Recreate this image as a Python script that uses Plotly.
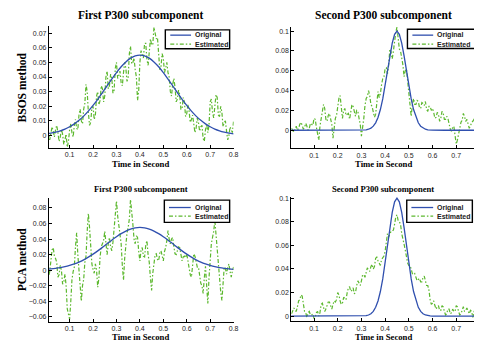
import plotly.graph_objects as go

# The page has an 8px body margin, so the figure is placed at (8, 8) in the window.
OX, OY = 8, 8
W, H = 474, 335

# ---------------- data ----------------
t_grid = [0.01, 0.02, 0.03, 0.04, 0.05, 0.06, 0.07, 0.08, 0.09, 0.10,
          0.11, 0.12, 0.13, 0.14, 0.15, 0.16, 0.17, 0.18, 0.19, 0.20,
          0.21, 0.22, 0.23, 0.24, 0.25, 0.26, 0.27, 0.28, 0.29, 0.30,
          0.31, 0.32, 0.33, 0.34, 0.35, 0.36, 0.37, 0.38, 0.39, 0.40,
          0.41, 0.42, 0.43, 0.44, 0.45, 0.46, 0.47, 0.48, 0.49, 0.50,
          0.51, 0.52, 0.53, 0.54, 0.55, 0.56, 0.57, 0.58, 0.59, 0.60,
          0.61, 0.62, 0.63, 0.64, 0.65, 0.66, 0.67, 0.68, 0.69, 0.70,
          0.71, 0.72, 0.73, 0.74, 0.75, 0.76, 0.77, 0.78, 0.79, 0.80]
t_half = [0.005, 0.015, 0.025, 0.035, 0.045, 0.055, 0.065, 0.075, 0.085, 0.095,
          0.105, 0.115, 0.125, 0.135, 0.145, 0.155, 0.165, 0.175, 0.185, 0.195,
          0.205, 0.215, 0.225, 0.235, 0.245, 0.255, 0.265, 0.275, 0.285, 0.295,
          0.305, 0.315, 0.325, 0.335, 0.345, 0.355, 0.365, 0.375, 0.385, 0.395,
          0.405, 0.415, 0.425, 0.435, 0.445, 0.455, 0.465, 0.475, 0.485, 0.495,
          0.505, 0.515, 0.525, 0.535, 0.545, 0.555, 0.565, 0.575, 0.585, 0.595,
          0.605, 0.615, 0.625, 0.635, 0.645, 0.655, 0.665, 0.675, 0.685, 0.695,
          0.705, 0.715, 0.725, 0.735, 0.745, 0.755, 0.765, 0.775, 0.785, 0.795]

t_orig1 = [0.00, 0.02, 0.04, 0.06, 0.08, 0.10, 0.12, 0.14, 0.16, 0.18,
           0.20, 0.22, 0.24, 0.26, 0.28, 0.30, 0.32, 0.34, 0.36, 0.38,
           0.40, 0.42, 0.44, 0.46, 0.48, 0.50, 0.52, 0.54, 0.56, 0.58,
           0.60, 0.62, 0.64, 0.66, 0.68, 0.70, 0.72, 0.74, 0.76, 0.78, 0.80]
orig1 = [0.0011, 0.0016, 0.0023, 0.0032, 0.0044, 0.0060, 0.0080, 0.0104, 0.0133, 0.0167,
         0.0206, 0.0248, 0.0293, 0.0340, 0.0386, 0.0430, 0.0470, 0.0503, 0.0529, 0.0545,
         0.0550, 0.0545, 0.0529, 0.0503, 0.0470, 0.0430, 0.0386, 0.0340, 0.0293, 0.0248,
         0.0206, 0.0167, 0.0133, 0.0104, 0.0080, 0.0060, 0.0044, 0.0032, 0.0023, 0.0016, 0.0011]

t_orig2 = [0.00, 0.10, 0.20, 0.28, 0.30, 0.31, 0.32, 0.33, 0.34, 0.35,
           0.36, 0.37, 0.38, 0.39, 0.40, 0.41, 0.42, 0.43, 0.44, 0.45,
           0.46, 0.47, 0.48, 0.49, 0.50, 0.51, 0.52, 0.53, 0.54, 0.55,
           0.56, 0.57, 0.58, 0.59, 0.60, 0.65, 0.70, 0.80]
orig2 = [0.0, 0.0, 0.0, 0.0, 0.0001, 0.0002, 0.0004, 0.0010, 0.0021, 0.0041,
         0.0075, 0.0129, 0.0209, 0.0316, 0.0449, 0.0599, 0.0750, 0.0880, 0.0969, 0.1000,
         0.0969, 0.0880, 0.0750, 0.0599, 0.0449, 0.0316, 0.0209, 0.0129, 0.0075, 0.0041,
         0.0021, 0.0010, 0.0004, 0.0002, 0.0001, 0.0, 0.0, 0.0]

# Estimated components: values at t_grid and at t_half
bsos1_grid = [0.002, 0.001, 0.003, 0.004, 0.002, -0.001, 0.001, -0.003, -0.008, 0.004,
              0.002, 0.007, 0.005, 0.014, 0.010, 0.018, 0.035, 0.016, 0.009, 0.020,
              0.014, 0.030, 0.024, 0.032, 0.027, 0.044, 0.034, 0.039, 0.031, 0.050,
              0.041, 0.036, 0.043, 0.046, 0.040, 0.061, 0.050, 0.045, 0.024, 0.050,
              0.055, 0.063, 0.052, 0.057, 0.062, 0.074, 0.066, 0.058, 0.047, 0.053,
              0.046, 0.043, 0.030, 0.035, 0.033, 0.025, 0.028, 0.018, 0.023, 0.015,
              0.017, 0.011, 0.008, 0.005, 0.009, 0.006, -0.002, 0.004, 0.002, 0.023,
              0.016, 0.020, 0.026, 0.013, 0.016, 0.009, 0.003, 0.000, 0.004, 0.010]
bsos1_half = [0.004, -0.003, 0.006, -0.001, 0.007, -0.004, 0.004, -0.006, 0.001, -0.004,
              0.008, -0.001, 0.011, 0.004, 0.018, 0.008, 0.022, 0.030, 0.007, 0.019,
              0.011, 0.027, 0.021, 0.034, 0.023, 0.040, 0.032, 0.042, 0.029, 0.046,
              0.039, 0.044, 0.034, 0.050, 0.037, 0.056, 0.049, 0.053, 0.040, 0.031,
              0.058, 0.053, 0.063, 0.048, 0.066, 0.062, 0.070, 0.067, 0.045, 0.056,
              0.043, 0.050, 0.040, 0.027, 0.039, 0.023, 0.031, 0.018, 0.026, 0.013,
              0.021, 0.009, 0.014, 0.002, 0.012, 0.003, 0.007, -0.004, 0.008, 0.007,
              0.025, 0.012, 0.028, 0.014, 0.020, 0.006, 0.010, -0.003, 0.006, 0.002]

bsos2_grid = [0.000, 0.001, 0.000, 0.006, 0.005, 0.003, 0.004, 0.002, 0.006, 0.012,
              0.003, -0.010, 0.012, 0.026, 0.011, 0.015, 0.012, -0.008, 0.012, 0.024,
              0.035, 0.012, 0.022, 0.016, 0.011, 0.026, 0.018, 0.020, 0.012, -0.006,
              0.012, 0.032, 0.040, 0.026, 0.018, 0.016, 0.039, 0.037, 0.052, 0.062,
              0.057, 0.082, 0.072, 0.092, 0.104, 0.082, 0.074, 0.054, 0.062, 0.042,
              0.014, 0.032, 0.026, 0.029, 0.022, 0.027, 0.029, 0.019, 0.024, 0.022,
              0.012, 0.018, 0.009, 0.019, 0.011, 0.014, 0.006, -0.001, 0.004, -0.014,
              -0.004, 0.008, 0.017, 0.009, 0.006, 0.004, 0.009, 0.016, 0.008, 0.012]
bsos2_half = [0.002, -0.002, 0.004, 0.002, 0.008, 0.001, 0.007, 0.000, 0.007, 0.005,
              0.011, -0.002, 0.004, 0.016, 0.022, 0.009, 0.017, 0.006, 0.006, 0.015,
              0.032, 0.020, 0.020, 0.015, 0.017, 0.020, 0.024, 0.014, 0.019, 0.006,
              0.002, 0.025, 0.034, 0.035, 0.024, 0.013, 0.030, 0.033, 0.046, 0.054,
              0.063, 0.066, 0.079, 0.080, 0.099, 0.092, 0.080, 0.066, 0.060, 0.049,
              0.025, 0.026, 0.026, 0.030, 0.023, 0.028, 0.025, 0.021, 0.024, 0.020,
              0.018, 0.013, 0.016, 0.012, 0.017, 0.011, 0.012, 0.001, 0.003, -0.006,
              -0.010, 0.003, 0.010, 0.014, 0.011, 0.002, 0.008, 0.011, 0.011, 0.012]

pca1_grid = [-0.008, 0.012, 0.029, 0.015, -0.009, 0.006, -0.018, -0.005, -0.050, -0.063,
             -0.012, 0.004, 0.048, -0.002, -0.040, -0.012, 0.018, 0.073, 0.028, 0.001,
             0.008, -0.022, 0.017, 0.034, 0.050, 0.020, 0.042, 0.025, 0.058, 0.089,
             0.058, 0.034, -0.013, 0.034, 0.055, 0.091, 0.059, 0.034, 0.042, 0.012,
             0.029, 0.017, 0.038, 0.010, -0.026, 0.012, 0.021, 0.012, 0.025, 0.012,
             0.029, 0.051, 0.034, 0.042, 0.021, 0.025, 0.029, 0.012, 0.018, 0.021,
             0.000, -0.009, 0.021, 0.010, 0.004, -0.017, -0.030, 0.005, -0.043, 0.021,
             0.042, 0.064, 0.029, -0.013, -0.039, 0.004, -0.005, 0.008, -0.009, 0.004]
pca1_half = [0.002, -0.002, 0.026, 0.018, 0.010, -0.006, 0.000, -0.016, -0.020, -0.058,
             -0.040, -0.002, 0.030, 0.020, -0.028, -0.020, 0.010, 0.050, 0.055, 0.008,
             -0.004, 0.000, -0.010, 0.030, 0.038, 0.030, 0.034, 0.030, 0.036, 0.078,
             0.070, 0.048, 0.006, 0.015, 0.048, 0.066, 0.078, 0.040, 0.044, 0.024,
             0.026, 0.018, 0.032, 0.020, -0.010, -0.004, 0.020, 0.014, 0.022, 0.016,
             0.024, 0.038, 0.040, 0.040, 0.030, 0.020, 0.030, 0.018, 0.017, 0.016,
             0.012, -0.006, 0.008, 0.018, 0.004, -0.008, -0.020, -0.010, -0.020, -0.010,
             0.034, 0.050, 0.044, 0.004, -0.028, -0.016, 0.002, 0.004, -0.002, -0.001]

pca2_grid = [0.004, 0.005, 0.008, 0.014, 0.017, 0.004, -0.001, 0.004, 0.001, -0.002,
             0.003, 0.000, 0.010, 0.007, 0.006, 0.012, 0.008, 0.010, 0.012, 0.020,
             0.013, 0.011, 0.015, 0.020, 0.025, 0.022, 0.019, 0.026, 0.028, 0.030,
             0.035, 0.037, 0.039, 0.042, 0.040, 0.049, 0.047, 0.043, 0.050, 0.055,
             0.070, 0.069, 0.072, 0.078, 0.086, 0.080, 0.070, 0.061, 0.048, 0.043,
             0.040, 0.035, 0.033, 0.031, 0.029, 0.033, 0.030, 0.026, 0.014, 0.011,
             0.009, 0.008, 0.005, 0.009, 0.004, 0.002, 0.006, 0.003, 0.004, 0.009,
             0.004, 0.002, 0.008, 0.005, 0.004, 0.005, -0.001, 0.008, 0.003, 0.006]
pca2_half = [0.002, 0.007, 0.004, 0.013, 0.018, 0.009, 0.003, 0.003, 0.001, 0.002,
             -0.001, 0.004, 0.003, 0.011, 0.004, 0.010, 0.012, 0.006, 0.013, 0.014,
             0.018, 0.010, 0.016, 0.014, 0.024, 0.021, 0.024, 0.020, 0.030, 0.026,
             0.035, 0.033, 0.041, 0.038, 0.044, 0.042, 0.050, 0.044, 0.048, 0.051,
             0.061, 0.067, 0.072, 0.073, 0.084, 0.081, 0.078, 0.064, 0.056, 0.045,
             0.043, 0.036, 0.036, 0.030, 0.032, 0.029, 0.034, 0.026, 0.022, 0.010,
             0.013, 0.006, 0.009, 0.005, 0.008, 0.001, 0.006, 0.002, 0.006, 0.004,
             0.008, 0.001, 0.006, 0.004, 0.007, 0.002, 0.004, 0.003, 0.004, 0.007]

x_ticks = [0.1, 0.2, 0.3, 0.4, 0.5, 0.6, 0.7, 0.8]
x_labels = ["0.1", "0.2", "0.3", "0.4", "0.5", "0.6", "0.7", "0.8"]
y1_ticks = [0, 0.01, 0.02, 0.03, 0.04, 0.05, 0.06, 0.07]
y1_labels = ["0", "0.01", "0.02", "0.03", "0.04", "0.05", "0.06", "0.07"]
y2_ticks = [0, 0.02, 0.04, 0.06, 0.08, 0.1]
y2_labels = ["0", "0.02", "0.04", "0.06", "0.08", "0.1"]
y3_ticks = [-0.06, -0.04, -0.02, 0, 0.02, 0.04, 0.06, 0.08]
y3_labels = ["\u22120.06", "\u22120.04", "\u22120.02", "0", "0.02", "0.04", "0.06", "0.08"]

titles = ["First P300 subcomponent", "Second P300 subcomponent"]
row_labels = ["BSOS method", "PCA method"]
x_title = "Time in Second"
names = ["Original", "Estimated"]


def merge(grid_t, grid_v, half_t, half_v):
    pts = sorted(zip(grid_t + half_t, grid_v + half_v))
    return [p[0] for p in pts], [p[1] for p in pts]


# ---------------- styles ----------------
BLUE = "#2f4fae"
GREEN = "#5cb82e"
GREEN_DASH = "4px,2px,1.5px,2px"
SERIF = "Liberation Serif, Times New Roman, serif"
SANS = "Liberation Sans, Arial, sans-serif"


def px(x):
    return (x - OX) / W


def py(y):
    return 1 - (y - OY) / H


fig = go.Figure()

panels = [
    ("x", "y", t_orig1, orig1, bsos1_grid, bsos1_half, "spline"),
    ("x2", "y2", t_orig2, orig2, bsos2_grid, bsos2_half, "linear"),
    ("x3", "y3", t_orig1, orig1, pca1_grid, pca1_half, "spline"),
    ("x4", "y4", t_orig2, orig2, pca2_grid, pca2_half, "linear"),
]
for xa, ya, to, o, eg, eh, shp in panels:
    te, ve = merge(t_grid, eg, t_half, eh)
    fig.add_trace(go.Scatter(x=te, y=ve, xaxis=xa, yaxis=ya, mode="lines",
                             line=dict(color=GREEN, width=1.2, dash=GREEN_DASH),
                             showlegend=False, name=names[1]))
    fig.add_trace(go.Scatter(x=to, y=o, xaxis=xa, yaxis=ya, mode="lines",
                             line=dict(color=BLUE, width=1.3, shape=shp),
                             showlegend=False, name=names[0]))

axis_common = dict(showline=True, linecolor="black", linewidth=1, ticks="inside",
                   ticklen=3, tickwidth=0.8, tickcolor="black", showgrid=False,
                   zeroline=False, tickfont=dict(family=SANS, size=7, color="#262626"),
                   fixedrange=True)

fig.update_layout(
    width=W, height=H, autosize=False,
    margin=dict(l=0, r=0, t=0, b=0),
    paper_bgcolor="white", plot_bgcolor="white",
    xaxis=dict(domain=[px(49.3), px(236)], range=[0.0114, 0.8], anchor="y",
               tickvals=x_ticks, ticktext=x_labels, **axis_common),
    yaxis=dict(domain=[py(146.7), py(24)], range=[-0.0084, 0.0749], anchor="x",
               tickvals=y1_ticks, ticktext=y1_labels, **axis_common),
    xaxis2=dict(domain=[px(294.3), 1.0], range=[0.004, 0.7877], anchor="y2",
                tickvals=x_ticks, ticktext=x_labels, **axis_common),
    yaxis2=dict(domain=[py(147.3), py(25)], range=[-0.0184, 0.1043], anchor="x2",
                tickvals=y2_ticks, ticktext=y2_labels, **axis_common),
    xaxis3=dict(domain=[px(49.3), px(236)], range=[0.0114, 0.8], anchor="y3",
                tickvals=x_ticks, ticktext=x_labels, **axis_common),
    yaxis3=dict(domain=[py(321.7), py(196.7)], range=[-0.0665, 0.0934], anchor="x3",
                tickvals=y3_ticks, ticktext=y3_labels, **axis_common),
    xaxis4=dict(domain=[px(294.3), 1.0], range=[0.004, 0.7877], anchor="y4",
                tickvals=x_ticks, ticktext=x_labels, **axis_common),
    yaxis4=dict(domain=[py(321), py(196)], range=[-0.0042, 0.1011], anchor="x4",
                tickvals=y2_ticks, ticktext=y2_labels, **axis_common),
)

ann = []
shapes = []


def text(x, y, s, size, family, bold=True, xanchor="center", angle=0, color="black"):
    ann.append(dict(x=px(x), y=py(y), xref="paper", yref="paper", text=s,
                    showarrow=False, xanchor=xanchor, yanchor="middle", textangle=angle,
                    font=dict(family=family, size=size, color=color,
                              weight="bold" if bold else "normal")))


# titles
text(141.5, 14, titles[0], 11.5, SERIF)
text(387, 14, titles[1], 11.5, SERIF)
text(142, 188, titles[0], 8.6, SERIF)
text(387, 188, titles[1], 8.6, SERIF)
# row labels
text(22, 86, row_labels[0], 11.5, SERIF, angle=-90)
text(22, 259, row_labels[1], 11.5, SERIF, angle=-90)
# x titles
text(142, 163, x_title, 8.7, SERIF)
text(387, 163, x_title, 8.7, SERIF)
text(142, 336.5, x_title, 8.7, SERIF)
text(387, 336.5, x_title, 8.7, SERIF)
# partially visible 0.8 tick label of the right panels (at the window edge)
text(485, 154.5, x_labels[-1], 7, SANS, bold=False, color="#262626")
text(485, 327.5, x_labels[-1], 7, SANS, bold=False, color="#262626")


# legends (boxed, MATLAB style)
def legend(x0, x1, y0, y1, lx0, lx1, tx, ya, yb):
    shapes.append(dict(type="rect", xref="paper", yref="paper",
                       x0=px(x0), x1=px(x1), y0=py(y1), y1=py(y0),
                       line=dict(color="black", width=1.4), fillcolor="white", layer="above"))
    shapes.append(dict(type="line", xref="paper", yref="paper",
                       x0=px(lx0), x1=px(lx1), y0=py(ya), y1=py(ya),
                       line=dict(color=BLUE, width=1.3), layer="above"))
    shapes.append(dict(type="line", xref="paper", yref="paper",
                       x0=px(lx0), x1=px(lx1), y0=py(yb), y1=py(yb),
                       line=dict(color=GREEN, width=1.2, dash=GREEN_DASH), layer="above"))
    text(tx, ya, names[0], 7, SANS, bold=True, xanchor="left", color="#222")
    text(tx, yb, names[1], 7, SANS, bold=True, xanchor="left", color="#222")


legend(167, 232, 28, 47, 172, 193, 195, 33.3, 42.3)
legend(411.7, 480.7, 27.3, 46.7, 416.7, 437.7, 440, 33.3, 42.3)
legend(166, 232, 199.3, 221.7, 170.7, 192.7, 195, 206.7, 215.3)
legend(411, 477.3, 199.3, 221.7, 415.7, 437.7, 440, 206.7, 215.3)

fig.update_layout(annotations=ann, shapes=shapes)

fig.write_html("out.html")
